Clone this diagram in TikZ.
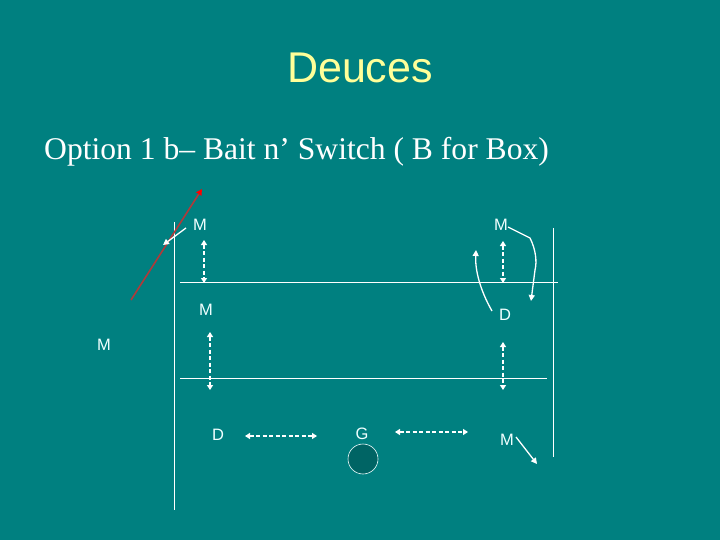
\documentclass[tikz,border=0pt]{standalone}
\usepackage{fontspec}
\setmainfont{Liberation Serif}
\setsansfont{Liberation Sans}
\usetikzlibrary{arrows.meta}
\definecolor{bg}{HTML}{008080}
\definecolor{titlecol}{HTML}{FFFF99}
\definecolor{redline}{HTML}{B03A3A}
\definecolor{ball}{HTML}{006464}
\definecolor{labcol}{HTML}{F0FFFF}
\tikzset{
  field/.style={draw=white, line width=0.9pt},
  lab/.style={font=\sffamily\fontsize{16.5}{16.5}\selectfont, text=labcol, inner sep=0pt},
  dbl/.style={draw=white, line width=1.6pt, dash pattern=on 4pt off 2.5pt, {Triangle[length=5pt,width=6pt]}-{Triangle[length=5pt,width=6pt]}},
  move/.style={draw=white, line width=1.3pt, -{Triangle[length=6pt,width=6pt]}},
}
\begin{document}
\begin{tikzpicture}[x=1pt,y=-1pt]
\fill[bg] (0,0) rectangle (720,540);
\useasboundingbox (0,0) rectangle (720,540);
% titles
\node[font=\sffamily\fontsize{43}{43}\selectfont, text=titlecol] (title) at (360,68) {Deuces};
\node[font=\fontsize{31.6}{31.6}\selectfont, text=white, anchor=base west, inner sep=0pt] (sub) at (44,160) {Option 1 b– Bait n’ Switch ( B for Box)};
% field lines
\coordinate (lt) at (174,222); \coordinate (lb) at (174,510);
\coordinate (rt) at (553,228); \coordinate (rb) at (553,457);
\coordinate (h1a) at (180,282); \coordinate (h1b) at (558,282);
\coordinate (h2a) at (180,378); \coordinate (h2b) at (547,378);
\draw[field] (lt) -- (lb);
\draw[field] (rt) -- (rb);
\draw[field] (h1a) -- (h1b);
\draw[field] (h2a) -- (h2b);
% labels
\node[lab] (m1) at (200,225) {M};
\node[lab] (m2) at (501,225) {M};
\node[lab] (m3) at (206,310) {M};
\node[lab] (d1) at (505,315) {D};
\node[lab] (m4) at (104,345) {M};
\node[lab] (d2) at (218,435) {D};
\node[lab] (g) at (362,434) {G};
\node[lab] (m5) at (507,440) {M};
\node[circle, draw=labcol, fill=ball, minimum size=30pt, inner sep=0pt, line width=0.6pt] (ballnode) at (363,459) {};
% dashed double arrows
\coordinate (a1) at (204,240); \coordinate (a2) at (204,283);
\coordinate (b1) at (503,241); \coordinate (b2) at (503,283);
\coordinate (c1) at (210,332); \coordinate (c2) at (210,390);
\coordinate (e1) at (503,342); \coordinate (e2) at (503,390);
\coordinate (f1) at (245,436); \coordinate (f2) at (317,436);
\coordinate (k1) at (395,432); \coordinate (k2) at (468,432);
\draw[dbl] (a1) -- (a2);
\draw[dbl] (b1) -- (b2);
\draw[dbl] (c1) -- (c2);
\draw[dbl] (e1) -- (e2);
\draw[dbl] (f1) -- (f2);
\draw[dbl] (k1) -- (k2);
% red line
\coordinate (r1) at (131,300); \coordinate (r2) at (202,189);
\draw[draw=redline, line width=1.6pt, -{Triangle[length=6pt,width=6pt,color=red]}] (r1) -- (r2);
% moves
\coordinate (w1) at (186,228); \coordinate (w2) at (163,245);
\draw[move] (w1) -- (w2);
\coordinate (dstart) at (492,311); \coordinate (dend) at (476,250);
\draw[move] (dstart) .. controls (480,290) and (475,270) .. (dend);
\coordinate (mstart) at (508,227); \coordinate (mend) at (531,301);
\draw[move] (mstart) -- (530,238) .. controls (536,250) and (537,262) .. (535,270) -- (mend);
\coordinate (ms1) at (516,437); \coordinate (ms2) at (537,464);
\draw[move] (ms1) -- (ms2);
\end{tikzpicture}
\end{document}
